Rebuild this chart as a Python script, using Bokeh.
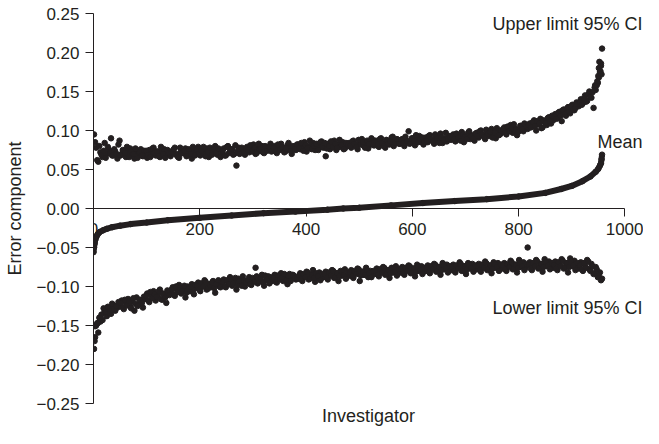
from bokeh.plotting import figure
from bokeh.models import (LinearAxis, FixedTicker, CustomJSTickFormatter, Label,
                          Range1d)
from bokeh.embed import file_html
from bokeh.resources import INLINE

# ---------------- data ----------------
investigator_ticks = [0, 200, 400, 600, 800, 1000]
error_ticks = [-0.25, -0.20, -0.15, -0.10, -0.05, 0.00, 0.05, 0.10, 0.15, 0.20, 0.25]

# investigators 1, 5, 9, ..., 957 and 3, 7, 11, ..., 955
grid_x = list(range(1, 958, 4))
grid_x_b = list(range(3, 956, 4))

upper_y = [
    0.095, 0.078, 0.060, 0.072, 0.066, 0.084, 0.070, 0.075, 0.090, 0.068, 0.073, 0.064,
    0.087, 0.070, 0.074, 0.066, 0.072, 0.077, 0.069, 0.064, 0.073, 0.070, 0.076, 0.067,
    0.071, 0.065, 0.075, 0.070, 0.078, 0.068, 0.073, 0.066, 0.072, 0.076, 0.069, 0.074,
    0.067, 0.073, 0.078, 0.070, 0.065, 0.074, 0.071, 0.077, 0.068, 0.073, 0.064, 0.075,
    0.072, 0.079, 0.068, 0.074, 0.070, 0.077, 0.066, 0.075, 0.073, 0.080, 0.069, 0.074,
    0.071, 0.077, 0.068, 0.080, 0.073, 0.076, 0.070, 0.055, 0.078, 0.072, 0.075, 0.069,
    0.079, 0.072, 0.076, 0.082, 0.070, 0.077, 0.074, 0.080, 0.071, 0.078, 0.075, 0.083,
    0.074, 0.080, 0.071, 0.077, 0.083, 0.076, 0.073, 0.081, 0.078, 0.070, 0.079, 0.075,
    0.082, 0.076, 0.079, 0.085, 0.073, 0.080, 0.077, 0.084, 0.075, 0.081, 0.078, 0.086,
    0.078, 0.067, 0.083, 0.076, 0.081, 0.087, 0.075, 0.082, 0.079, 0.085, 0.077, 0.080,
    0.084, 0.078, 0.087, 0.081, 0.076, 0.083, 0.089, 0.080, 0.085, 0.077, 0.082, 0.088,
    0.081, 0.086, 0.079, 0.090, 0.083, 0.078, 0.087, 0.082, 0.091, 0.080, 0.085, 0.088,
    0.083, 0.089, 0.080, 0.087, 0.099, 0.084, 0.090, 0.081, 0.088, 0.093, 0.085, 0.082,
    0.091, 0.085, 0.094, 0.088, 0.083, 0.092, 0.087, 0.096, 0.084, 0.090, 0.086, 0.093,
    0.088, 0.095, 0.086, 0.093, 0.090, 0.098, 0.085, 0.092, 0.097, 0.089, 0.094, 0.087,
    0.097, 0.091, 0.100, 0.094, 0.089, 0.098, 0.093, 0.102, 0.096, 0.090, 0.099, 0.095,
    0.098, 0.104, 0.095, 0.101, 0.107, 0.097, 0.103, 0.094, 0.100, 0.106, 0.099, 0.104,
    0.102, 0.109, 0.105, 0.113, 0.100, 0.108, 0.115, 0.104, 0.111, 0.107, 0.117, 0.109,
    0.113, 0.121, 0.116, 0.124, 0.112, 0.127, 0.119, 0.130, 0.122, 0.133, 0.126, 0.136,
    0.131, 0.140, 0.135, 0.145, 0.138, 0.150, 0.142, 0.129, 0.152, 0.161, 0.175, 0.205,
]
upper_y_b = [
    0.085, 0.062, 0.080, 0.069, 0.074, 0.065, 0.079, 0.071, 0.068, 0.076, 0.070, 0.082,
    0.068, 0.075, 0.071, 0.079, 0.066, 0.073, 0.070, 0.077, 0.065, 0.072, 0.068, 0.074,
    0.074, 0.069, 0.066, 0.077, 0.071, 0.073, 0.067, 0.079, 0.070, 0.065, 0.075, 0.071,
    0.072, 0.076, 0.069, 0.066, 0.078, 0.071, 0.074, 0.067, 0.076, 0.070, 0.079, 0.068,
    0.076, 0.070, 0.074, 0.079, 0.067, 0.072, 0.078, 0.069, 0.076, 0.071, 0.077, 0.066,
    0.074, 0.068, 0.079, 0.071, 0.076, 0.069, 0.081, 0.073, 0.070, 0.078, 0.072, 0.077,
    0.075, 0.081, 0.073, 0.078, 0.071, 0.083, 0.076, 0.072, 0.080, 0.074, 0.079, 0.073,
    0.078, 0.073, 0.082, 0.075, 0.079, 0.072, 0.077, 0.084, 0.074, 0.080, 0.076, 0.082,
    0.077, 0.084, 0.074, 0.081, 0.078, 0.087, 0.076, 0.080, 0.083, 0.075, 0.085, 0.079,
    0.084, 0.077, 0.080, 0.086, 0.079, 0.083, 0.078, 0.088, 0.081, 0.076, 0.084, 0.082,
    0.080, 0.086, 0.083, 0.079, 0.088, 0.082, 0.085, 0.078, 0.087, 0.083, 0.090, 0.081,
    0.087, 0.082, 0.089, 0.084, 0.080, 0.088, 0.083, 0.086, 0.092, 0.084, 0.089, 0.083,
    0.088, 0.084, 0.092, 0.086, 0.083, 0.090, 0.087, 0.094, 0.085, 0.089, 0.091, 0.086,
    0.087, 0.093, 0.089, 0.086, 0.095, 0.090, 0.084, 0.091, 0.088, 0.097, 0.089, 0.092,
    0.093, 0.089, 0.096, 0.091, 0.087, 0.095, 0.092, 0.089, 0.099, 0.093, 0.090, 0.096,
    0.093, 0.099, 0.095, 0.092, 0.101, 0.096, 0.098, 0.091, 0.097, 0.103, 0.094, 0.100,
    0.102, 0.097, 0.105, 0.099, 0.103, 0.108, 0.101, 0.098, 0.106, 0.102, 0.109, 0.105,
    0.107, 0.104, 0.111, 0.106, 0.112, 0.109, 0.103, 0.113, 0.110, 0.116, 0.112, 0.119,
    0.118, 0.115, 0.123, 0.119, 0.126, 0.121, 0.128, 0.124, 0.131, 0.127, 0.129, 0.134,
    0.136, 0.133, 0.141, 0.137, 0.146, 0.143, 0.149, 0.155, 0.158, 0.168, 0.186,
]
upper_tail_x = [944, 948, 950, 951, 952, 954, 955, 956]
upper_tail_y = [0.158, 0.163, 0.170, 0.180, 0.188, 0.176, 0.183, 0.172]

lower_y = [
    -0.180, -0.150, -0.159, -0.145, -0.143, -0.132, -0.138, -0.128, -0.135, -0.124, -0.131, -0.127,
    -0.125, -0.118, -0.129, -0.121, -0.116, -0.126, -0.120, -0.131, -0.114, -0.123, -0.118, -0.127,
    -0.116, -0.109, -0.120, -0.112, -0.106, -0.118, -0.111, -0.104, -0.117, -0.110, -0.121, -0.108,
    -0.108, -0.101, -0.112, -0.104, -0.098, -0.109, -0.103, -0.114, -0.100, -0.106, -0.097, -0.110,
    -0.102, -0.095, -0.106, -0.098, -0.092, -0.104, -0.097, -0.101, -0.093, -0.108, -0.096, -0.100,
    -0.098, -0.091, -0.101, -0.094, -0.088, -0.099, -0.093, -0.104, -0.090, -0.096, -0.087, -0.100,
    -0.095, -0.088, -0.098, -0.091, -0.076, -0.096, -0.089, -0.085, -0.099, -0.092, -0.087, -0.094,
    -0.092, -0.085, -0.095, -0.088, -0.083, -0.093, -0.087, -0.097, -0.084, -0.090, -0.086, -0.091,
    -0.090, -0.083, -0.093, -0.086, -0.081, -0.091, -0.085, -0.079, -0.094, -0.088, -0.082, -0.089,
    -0.088, -0.081, -0.091, -0.084, -0.079, -0.089, -0.083, -0.093, -0.080, -0.086, -0.078, -0.087,
    -0.086, -0.079, -0.089, -0.082, -0.077, -0.093, -0.081, -0.085, -0.076, -0.088, -0.080, -0.084,
    -0.084, -0.077, -0.087, -0.080, -0.075, -0.085, -0.079, -0.089, -0.076, -0.082, -0.074, -0.083,
    -0.082, -0.075, -0.085, -0.078, -0.073, -0.083, -0.077, -0.087, -0.072, -0.080, -0.074, -0.081,
    -0.080, -0.073, -0.083, -0.076, -0.071, -0.081, -0.075, -0.085, -0.070, -0.078, -0.072, -0.079,
    -0.079, -0.072, -0.082, -0.075, -0.069, -0.080, -0.074, -0.084, -0.070, -0.077, -0.071, -0.078,
    -0.078, -0.071, -0.081, -0.074, -0.068, -0.079, -0.073, -0.083, -0.069, -0.076, -0.070, -0.077,
    -0.077, -0.070, -0.080, -0.073, -0.067, -0.078, -0.072, -0.082, -0.066, -0.075, -0.069, -0.076,
    -0.050, -0.069, -0.079, -0.072, -0.066, -0.077, -0.071, -0.081, -0.065, -0.074, -0.068, -0.075,
    -0.076, -0.068, -0.079, -0.071, -0.065, -0.077, -0.070, -0.082, -0.064, -0.074, -0.067, -0.075,
    -0.077, -0.069, -0.080, -0.072, -0.066, -0.078, -0.071, -0.084, -0.075, -0.088, -0.082, -0.090,
]
lower_y_b = [
    -0.165, -0.147, -0.140, -0.136, -0.128, -0.133, -0.126, -0.131, -0.122, -0.129, -0.125, -0.120,
    -0.121, -0.127, -0.117, -0.124, -0.119, -0.128, -0.115, -0.122, -0.125, -0.117, -0.121, -0.113,
    -0.112, -0.118, -0.107, -0.115, -0.110, -0.113, -0.106, -0.116, -0.109, -0.114, -0.105, -0.111,
    -0.104, -0.110, -0.100, -0.107, -0.102, -0.106, -0.099, -0.108, -0.103, -0.101, -0.107, -0.098,
    -0.099, -0.104, -0.096, -0.100, -0.094, -0.103, -0.098, -0.095, -0.102, -0.097, -0.092, -0.101,
    -0.095, -0.100, -0.092, -0.097, -0.091, -0.096, -0.089, -0.098, -0.093, -0.099, -0.092, -0.095,
    -0.092, -0.097, -0.089, -0.094, -0.087, -0.093, -0.090, -0.095, -0.086, -0.091, -0.096, -0.088,
    -0.089, -0.094, -0.086, -0.091, -0.088, -0.084, -0.092, -0.087, -0.093, -0.085, -0.089, -0.090,
    -0.086, -0.091, -0.084, -0.088, -0.082, -0.090, -0.085, -0.089, -0.083, -0.087, -0.092, -0.084,
    -0.084, -0.089, -0.082, -0.086, -0.080, -0.088, -0.083, -0.087, -0.081, -0.085, -0.090, -0.082,
    -0.082, -0.087, -0.080, -0.084, -0.078, -0.086, -0.081, -0.085, -0.079, -0.083, -0.088, -0.080,
    -0.080, -0.085, -0.078, -0.082, -0.076, -0.084, -0.079, -0.083, -0.077, -0.081, -0.086, -0.078,
    -0.078, -0.083, -0.076, -0.080, -0.074, -0.082, -0.077, -0.081, -0.075, -0.079, -0.084, -0.076,
    -0.076, -0.081, -0.074, -0.078, -0.072, -0.080, -0.075, -0.079, -0.073, -0.077, -0.082, -0.074,
    -0.075, -0.080, -0.073, -0.077, -0.071, -0.079, -0.074, -0.078, -0.072, -0.076, -0.081, -0.073,
    -0.074, -0.079, -0.072, -0.076, -0.070, -0.078, -0.073, -0.077, -0.071, -0.075, -0.080, -0.072,
    -0.073, -0.078, -0.071, -0.075, -0.069, -0.077, -0.072, -0.076, -0.070, -0.074, -0.079, -0.071,
    -0.072, -0.077, -0.070, -0.074, -0.068, -0.076, -0.071, -0.075, -0.069, -0.073, -0.078, -0.070,
    -0.072, -0.077, -0.069, -0.074, -0.067, -0.076, -0.070, -0.075, -0.068, -0.073, -0.079, -0.070,
    -0.073, -0.078, -0.070, -0.076, -0.068, -0.080, -0.074, -0.083, -0.078, -0.086, -0.092,
]
lower_head_x = [2, 3, 8, 12]
lower_head_y = [-0.170, -0.151, -0.147, -0.140]

mean_x = [0, 1, 2, 3, 5, 8, 12, 18, 25, 35, 50, 70, 100, 140, 200, 260, 320, 380,
          440, 470, 500, 560, 620, 680, 740, 800, 850, 880, 900, 920, 935, 945,
          950, 953, 955, 956, 957]
mean_y = [-0.056, -0.050, -0.045, -0.041, -0.037, -0.033, -0.030, -0.028, -0.026,
          -0.024, -0.022, -0.020, -0.018, -0.015, -0.012, -0.009, -0.006, -0.004,
          -0.0015, 0.0, 0.001, 0.004, 0.007, 0.0095, 0.012, 0.0155, 0.020, 0.025,
          0.029, 0.035, 0.041, 0.047, 0.051, 0.055, 0.058, 0.063, 0.069]

series_labels = ["Upper limit 95% CI", "Mean", "Lower limit 95% CI"]
label_y = [0.236, 0.085, -0.127]

# ---------------- styling ----------------
INK = "#231f20"
FONT = "Liberation Sans"

p = figure(width=643, height=428,
           x_range=Range1d(0, 1035), y_range=Range1d(-0.25, 0.25),
           x_axis_type=None, y_axis_type=None,
           output_backend="svg", toolbar_location=None,
           min_border_left=93, min_border_right=0,
           min_border_top=13, min_border_bottom=0)
p.outline_line_color = None
p.background_fill_color = "white"
p.border_fill_color = "white"

# y axis
yaxis = LinearAxis(ticker=FixedTicker(ticks=error_ticks),
                   formatter=CustomJSTickFormatter(
                       code="return tick.toFixed(2).replace('-', '\u2212');"),
                   axis_label="Error component")
yaxis.major_tick_out = 8
yaxis.major_tick_in = 0
yaxis.minor_tick_out = 0
yaxis.minor_tick_in = 0
yaxis.major_label_standoff = 6
yaxis.axis_label_standoff = 8
yaxis.axis_line_color = INK
yaxis.major_tick_line_color = INK
yaxis.major_label_text_color = INK
yaxis.major_label_text_font = FONT
yaxis.major_label_text_font_size = "17px"
yaxis.axis_label_text_color = INK
yaxis.axis_label_text_font = FONT
yaxis.axis_label_text_font_size = "18px"
yaxis.axis_label_text_font_style = "normal"
p.add_layout(yaxis, "left")

# x axis drawn across y = 0
xaxis0 = LinearAxis(fixed_location=0, ticker=FixedTicker(ticks=investigator_ticks),
                    bounds=(0, 1000))
xaxis0.major_tick_out = 8
xaxis0.major_tick_in = 0
xaxis0.minor_tick_out = 0
xaxis0.minor_tick_in = 0
xaxis0.major_label_standoff = 6
xaxis0.axis_line_color = INK
xaxis0.major_tick_line_color = INK
xaxis0.major_label_text_color = INK
xaxis0.major_label_text_font = FONT
xaxis0.major_label_text_font_size = "17px"
p.add_layout(xaxis0, "below")

# bottom axis carrying only the axis title
xlab = LinearAxis(ticker=FixedTicker(ticks=[]), bounds=(0, 986),
                  axis_label="Investigator")
xlab.axis_line_color = None
xlab.major_tick_out = 0
xlab.major_tick_in = 0
xlab.minor_tick_out = 0
xlab.minor_tick_in = 0
xlab.axis_label_standoff = 2
xlab.axis_label_text_color = INK
xlab.axis_label_text_font = FONT
xlab.axis_label_text_font_size = "18px"
xlab.axis_label_text_font_style = "normal"
p.add_layout(xlab, "below")

# data
DOT = 5.5
p.scatter(grid_x, upper_y, size=DOT, color=INK)
p.scatter(grid_x_b, upper_y_b, size=DOT, color=INK)
p.scatter(upper_tail_x, upper_tail_y, size=DOT, color=INK)
p.scatter(grid_x, lower_y, size=DOT, color=INK)
p.scatter(grid_x_b, lower_y_b, size=DOT, color=INK)
p.scatter(lower_head_x, lower_head_y, size=DOT, color=INK)
p.line(mean_x, mean_y, line_width=6, color=INK)
p.scatter(mean_x, mean_y, size=DOT, color=INK)

for txt, ly in zip(series_labels, label_y):
    p.add_layout(Label(x=1033, y=ly, text=txt, text_align="right",
                       text_baseline="middle", text_font=FONT,
                       text_font_size="18px", text_color=INK))

open("out.html", "w").write(file_html(p, INLINE))
